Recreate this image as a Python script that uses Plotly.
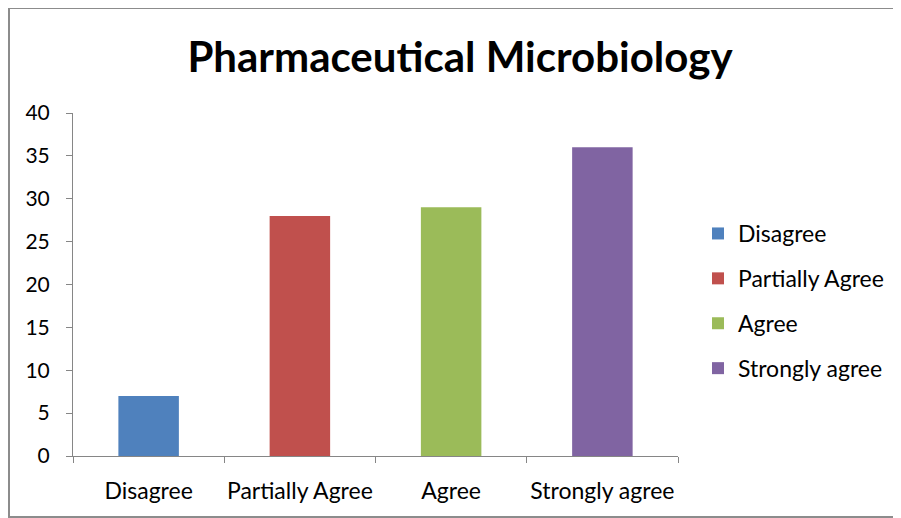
import plotly.graph_objects as go

categories = ["Disagree", "Partially Agree", "Agree", "Strongly agree"]
values = [7, 28, 29, 36]
colors = ["#4F81BD", "#C0504D", "#9BBB59", "#8064A2"]
title_text = "Pharmaceutical Microbiology"
y_ticks = [0, 5, 10, 15, 20, 25, 30, 35, 40]

FONT = "Lato, Calibri, Carlito, sans-serif"

fig = go.Figure()
for i, (c, v, col) in enumerate(zip(categories, values, colors)):
    fig.add_trace(go.Bar(
        x=[c], y=[v], name=c, marker=dict(color=col, line=dict(width=0)),
        width=0.4, legendgroup=c, showlegend=True,
    ))

# page body adds an 8px offset; positions below are in figure coordinates
L, T = 65, 105
W, H = 901, 518
R = W - 670
B = H - 448
pw, ph = W - L - R, H - T - B

def px_x(p):
    return (p - L) / pw

def px_y(p):
    return (H - B - p) / ph

fig.update_layout(
    width=W, height=H,
    margin=dict(l=L, r=R, t=T, b=B, autoexpand=False),
    paper_bgcolor="white", plot_bgcolor="white",
    barmode="overlay",
    font=dict(family=FONT, size=23, color="#000000"),
    title=dict(text=f"<b>{title_text}</b>", x=452 / W, xanchor="center",
               y=1 - 49 / H, yanchor="middle",
               font=dict(family=FONT, size=42, color="#000000")),
    showlegend=True,
    legend=dict(x=px_x(690), xanchor="left", y=px_y(293), yanchor="middle",
                traceorder="grouped", tracegroupgap=12,
                font=dict(family=FONT, size=23, color="#000000"),
                bgcolor="rgba(0,0,0,0)"),
    xaxis=dict(categoryorder="array", categoryarray=categories,
               showline=True, linecolor="#868686", linewidth=1,
               ticks="outside", tickson="boundaries", ticklen=6, tickcolor="#868686",
               showgrid=False, zeroline=False, ticklabelstandoff=14, tickangle=0,
               tickfont=dict(family=FONT, size=23, color="#000000")),
    yaxis=dict(range=[0, 40], tickvals=y_ticks, showline=True, linecolor="#868686",
               linewidth=1, ticks="outside", ticklen=6, tickcolor="#868686",
               showgrid=False, zeroline=False, ticklabelstandoff=12,
               tickfont=dict(family=FONT, size=21, color="#000000")),
    shapes=[dict(type="rect", xref="paper", yref="paper",
                 x0=px_x(1), x1=px_x(910), y0=px_y(509), y1=px_y(0),
                 line=dict(color="#8C8C8C", width=2), fillcolor="rgba(0,0,0,0)",
                 layer="below")],
)

fig.write_html("out.html")
